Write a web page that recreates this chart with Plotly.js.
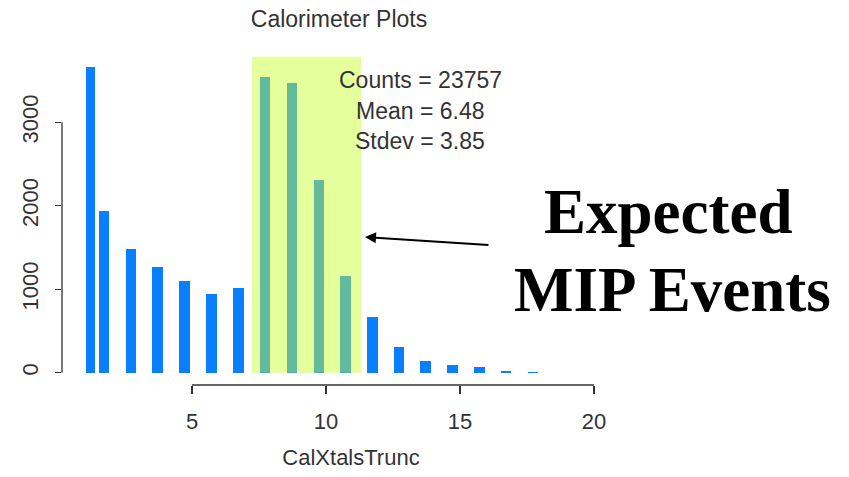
<!DOCTYPE html>
<html>
<head>
<meta charset="utf-8">
<script src="https://cdn.plot.ly/plotly-3.0.1.min.js"></script>
<style>
  html, body { margin: 0; padding: 0; background: #ffffff; }
  #chart { width: 849px; height: 477px; }
</style>
</head>
<body>
<div id="chart"></div>
<script>
// Histogram of CalXtalsTrunc: bin positions and counts
const binCenters = [1.22, 1.72, 2.73, 3.72, 4.72, 5.73, 6.73, 7.72, 8.73, 9.73,
                    10.72, 11.73, 12.72, 13.72, 14.72, 15.72, 16.72, 17.73];
const binCounts  = [3665, 1940, 1483, 1267, 1103, 939, 1015, 3541, 3469, 2306,
                    1155, 668, 308, 140, 88, 64, 15, 14];

// Axis ticks
const xTicks = [5, 10, 15, 20];
const yTicks = [0, 1000, 2000, 3000];

// Summary statistics shown on the plot
const statLines = ["Counts = 23757", "Mean = 6.48", "Stdev = 3.85"];

// Range of bins expected from minimum-ionising particles
const mipRange = [7.24, 11.31];
const mipTop = 3786;

const xRange = [0.149, 21.716];
const yRange = [-147.4, 3866];

const toPaperX = v => (v - xRange[0]) / (xRange[1] - xRange[0]);
const toPaperY = v => (v - yRange[0]) / (yRange[1] - yRange[0]);

const widths = binCenters.map((c, i) => i === 0 ? 0.34 : 0.39);

const trace = {
  type: 'bar',
  x: binCenters,
  y: binCounts,
  width: widths,
  marker: { color: '#0a7ffe', line: { width: 0 } },
  hoverinfo: 'x+y'
};

const axisColor = '#333333';
const textFont = { family: 'Liberation Sans, Arial, sans-serif', size: 22, color: '#333333' };
const statFont = { family: 'Liberation Sans, Arial, sans-serif', size: 23, color: '#333333' };

const shapes = [
  // highlighted MIP band, drawn translucent over the bars
  {
    type: 'rect', xref: 'x', yref: 'y',
    x0: mipRange[0], x1: mipRange[1], y0: 0, y1: mipTop,
    fillcolor: 'rgb(200,255,49)', opacity: 0.475,
    line: { width: 0 }, layer: 'above'
  },
  // x axis line spanning the tick range
  {
    type: 'line', xref: 'paper', yref: 'paper',
    x0: toPaperX(xTicks[0]), x1: toPaperX(xTicks[xTicks.length - 1]),
    y0: 0, y1: 0,
    line: { color: axisColor, width: 1.3 }
  },
  // y axis line spanning the tick range
  {
    type: 'line', xref: 'paper', yref: 'paper',
    x0: 0, x1: 0,
    y0: toPaperY(yTicks[0]), y1: toPaperY(yTicks[yTicks.length - 1]),
    line: { color: axisColor, width: 1.3 }
  }
];

const statLineY = [80, 111, 141];
const annotations = statLines.map((t, i) => ({
  text: t, showarrow: false,
  xref: 'paper', yref: 'paper',
  x: (420 - 62) / 578, y: (385 - statLineY[i]) / 335,
  xanchor: 'center', yanchor: 'middle',
  font: statFont
}));

annotations.push({
  text: '<b>Expected</b>', showarrow: false,
  xref: 'paper', yref: 'paper',
  x: (668 - 62) / 578, y: (385 - 212) / 335,
  xanchor: 'center', yanchor: 'middle',
  font: { family: 'Liberation Serif, Times New Roman, serif', size: 63, color: '#000000' }
});
annotations.push({
  text: '<b>MIP Events</b>', showarrow: false,
  xref: 'paper', yref: 'paper',
  x: (672 - 62) / 578, y: (385 - 290) / 335,
  xanchor: 'center', yanchor: 'middle',
  font: { family: 'Liberation Serif, Times New Roman, serif', size: 63, color: '#000000' }
});
// arrow pointing at the highlighted band
annotations.push({
  text: '', showarrow: true,
  xref: 'paper', yref: 'paper',
  x: (365 - 62) / 578, y: (385 - 237) / 335,
  ax: 125, ay: 8, axref: 'pixel', ayref: 'pixel',
  arrowhead: 2, arrowsize: 1.1, arrowwidth: 2, arrowcolor: '#000000'
});

const layout = {
  width: 849, height: 477,
  margin: { l: 62, r: 209, t: 50, b: 92, pad: 0 },
  paper_bgcolor: '#ffffff', plot_bgcolor: '#ffffff',
  showlegend: false,
  bargap: 0,
  title: {
    text: 'Calorimeter Plots',
    font: statFont,
    x: 339 / 849, xref: 'container', xanchor: 'center',
    y: 1 - 19 / 477, yref: 'container', yanchor: 'middle'
  },
  xaxis: {
    range: xRange,
    tickvals: xTicks, ticktext: xTicks.map(String),
    ticks: 'outside', ticklen: 8, tickwidth: 1.3, tickcolor: axisColor,
    showline: false, showgrid: false, zeroline: false,
    ticklabelstandoff: 9,
    tickfont: textFont,
    title: { text: 'CalXtalsTrunc', font: textFont, standoff: 16 }
  },
  yaxis: {
    range: yRange,
    tickvals: yTicks, ticktext: yTicks.map(String),
    ticks: 'outside', ticklen: 6, tickwidth: 1.3, tickcolor: axisColor,
    tickangle: -90,
    showline: false, showgrid: false, zeroline: false,
    ticklabelstandoff: 8,
    tickfont: textFont
  },
  shapes: shapes,
  annotations: annotations
};

Plotly.newPlot('chart', [trace], layout, { displayModeBar: false, staticPlot: true });
</script>
</body>
</html>
